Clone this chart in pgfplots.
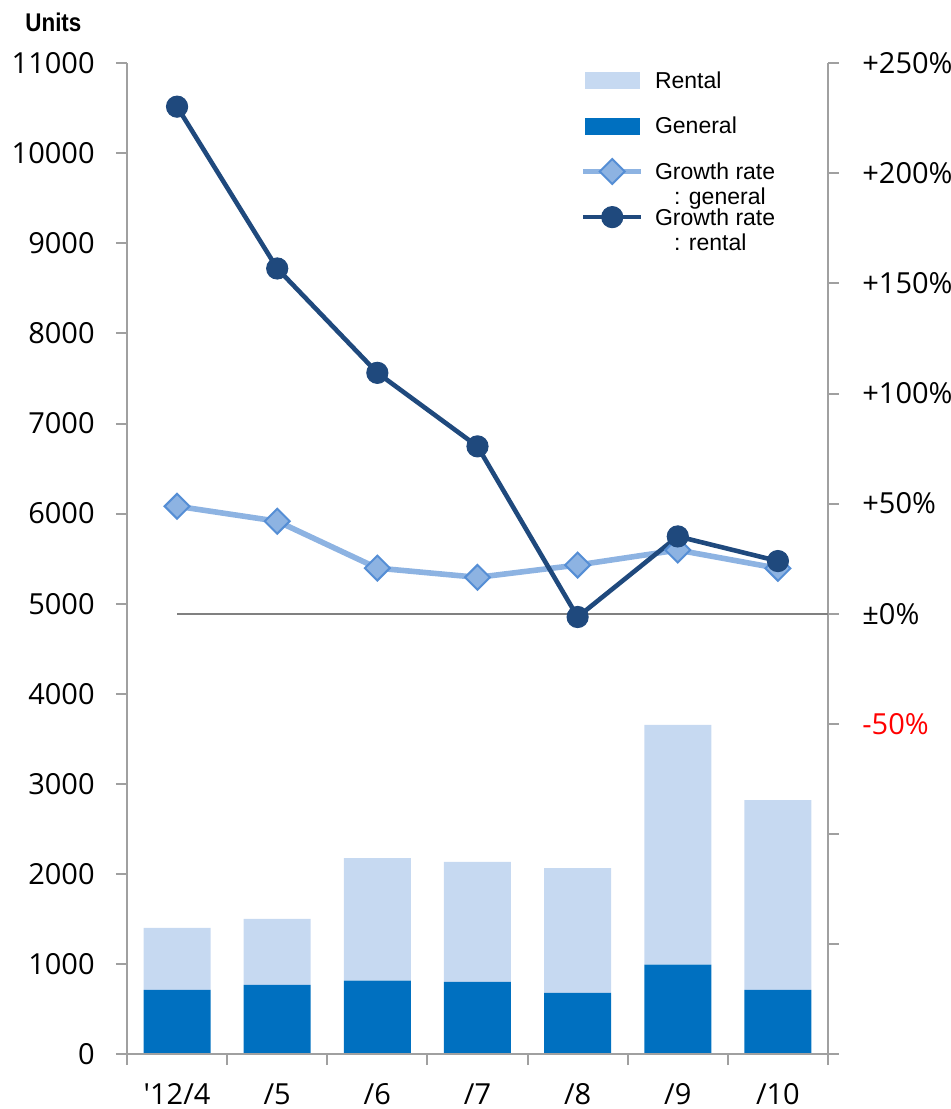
\documentclass[border=0pt]{standalone}
\usepackage{fontspec}
\setmainfont{Liberation Sans}
\newfontfamily\tickfont{Open Sans}
\newfontfamily\unitsfont[FakeStretch=0.875]{Liberation Sans}
\usepackage{pgfplots}
\pgfplotsset{compat=1.18}

\definecolor{rentalbar}{HTML}{C6D9F1}
\definecolor{generalbar}{HTML}{0070C0}
\definecolor{growthgen}{HTML}{8DB3E2}
\definecolor{growthgenedge}{HTML}{558ED5}
\definecolor{growthrent}{HTML}{1F497D}
\definecolor{axisgray}{HTML}{A0A0A0}

% two-line legend text that takes the room of one line
\newcommand\twoline[2]{\smash{\vtop{\baselineskip=12.5bp\hbox{#1}\hbox{\kern9.5bp#2}}}}

\pgfplotsset{
  base/.style={
    width=350.5bp, height=495.35bp, scale only axis,
    xmin=-0.5, xmax=6.5,
    axis line style={axisgray, line width=1bp},
    tick style={axisgray, line width=1bp},
    tick align=outside, major tick length=5.5bp,
    ticklabel style={font=\tickfont\fontsize{14.5bp}{17bp}\selectfont},
    /pgf/number format/assume math mode=true,
  },
  lineleg/.style={legend image code/.code={\draw[mark repeat=2, mark phase=2, ##1]
    plot coordinates {(0bp,0bp) (14.5bp,0bp) (29bp,0bp)};}},
}

\begin{document}
\begin{tikzpicture}
\begin{axis}[base, name=main,
  axis on top,
  axis y line*=left, axis x line*=bottom,
  ymin=0, ymax=11000, ytick distance=1000,
  scaled y ticks=false,
  yticklabel style={anchor=east, inner sep=0pt, xshift=-10.5bp,
    /pgf/number format/1000 sep={}},
  xtick={0,...,6},
  xticklabels={\textquotesingle12/4,/5,/6,/7,/8,/9,/10},
  major x tick style={draw=none},
  minor xtick={-0.5,0.5,...,6.5},
  minor tick length=5.5bp,
  xticklabel style={anchor=base, inner sep=0pt, yshift=-19.75bp},
  ybar stacked, bar width=33.5bp,
]
% General
\addplot[fill=generalbar, draw=none] coordinates {
  (0,711) (1,767) (2,815) (3,800) (4,678) (5,993) (6,711)};
% Rental
\addplot[fill=rentalbar, draw=none] coordinates {
  (0,689) (1,733) (2,1361) (3,1332) (4,1387) (5,2660) (6,2109)};
\end{axis}

\begin{axis}[base,
  axis x line=none, axis y line*=right,
  ymin=-200, ymax=250,
  ytick={-200,-150,...,250},
  yticklabels={,,,{\color{red}-50\%},{±0\%},{+50\%},{+100\%},{+150\%},{+200\%},{+250\%}},
  yticklabel style={anchor=west, inner sep=0pt, xshift=11.5bp},
  legend style={at={(rel axis cs:0.6463,0.9983)}, anchor=north west,
    draw=none, fill=none, inner sep=0pt,
    row sep=7.85bp, column sep=5.5bp,
    font=\fontsize{11.5bp}{13bp}\selectfont,
    nodes={inner sep=0pt, text height=11.5bp, text depth=3.45bp},
    cells={anchor=west}},
]
\addlegendimage{legend image code/.code={\fill[rentalbar] (1bp,-4bp) rectangle (28bp,4bp);}}
\addlegendentry{Rental}
\addlegendimage{legend image code/.code={\fill[generalbar] (1bp,-4bp) rectangle (28bp,4bp);}}
\addlegendentry{General}
% zero line
\addplot[gray, line width=1bp, forget plot] coordinates {(0,0) (6.5,0)};
% Growth rate: general
\addplot[growthgen, line width=2.8bp, mark=square*, mark size=4.4bp,
  mark options={rotate=45, fill=growthgen, draw=growthgenedge, line width=1bp},
  lineleg]
  coordinates {(0,48.8) (1,42.0) (2,20.7) (3,16.5) (4,22.1) (5,28.9) (6,20.6)};
\addlegendentry{\twoline{Growth rate}{: general}}
% Growth rate: rental
\addplot[growthrent, line width=2.3bp, mark=*, mark size=5.3bp,
  mark options={fill=growthrent, draw=growthrent, line width=0.5bp},
  lineleg]
  coordinates {(0,230.3) (1,156.8) (2,109.4) (3,76.0) (4,-1.5) (5,35.1) (6,23.9)};
\addlegendentry{\twoline{Growth rate}{: rental}}
\end{axis}

\node[anchor=base west, inner sep=0pt,
  font=\unitsfont\bfseries\fontsize{12.8bp}{15bp}\selectfont]
  at ([shift={(-51bp,15.8bp)}]main.north west) {Units};

\pgfresetboundingbox
\path[use as bounding box] ([shift={(-63.5bp,-27.5bp)}]main.south west)
  rectangle ([shift={(412bp,527bp)}]main.south west);
\end{tikzpicture}
\end{document}
